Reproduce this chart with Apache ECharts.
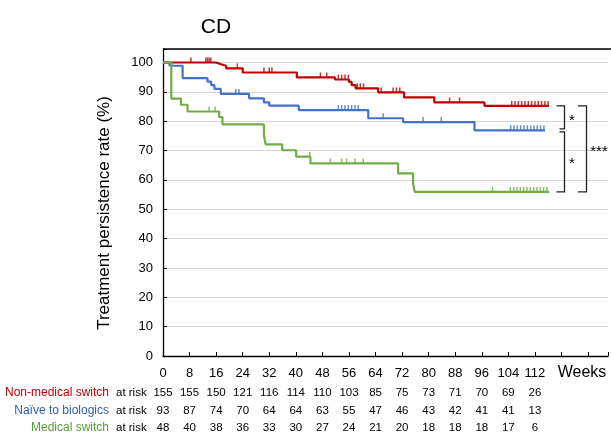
<!DOCTYPE html>
<html>
<head>
<meta charset="utf-8">
<script src="https://cdn.jsdelivr.net/npm/echarts@6/dist/echarts.min.js"></script>
<style>
  html, body { margin: 0; padding: 0; background: #fff; }
  #main { width: 611px; height: 432px; }
</style>
</head>
<body>
<div id="main"></div>
<script>
const groups = ['Non-medical switch', 'Naïve to biologics', 'Medical switch'];
const lineColors = ['#C00000', '#4472C4', '#70AD47'];
const textColors = ['#C00000', '#2F5DAA', '#5A9A3A'];

const tickWeeks = [0, 8, 16, 24, 32, 40, 48, 56, 64, 72, 80, 88, 96, 104, 112];
const riskNonMedical = [155, 155, 150, 121, 116, 114, 110, 103, 85, 75, 73, 71, 70, 69, 26];
const riskNaive = [93, 87, 74, 70, 64, 64, 63, 55, 47, 46, 43, 42, 41, 41, 13];
const riskMedical = [48, 40, 38, 36, 33, 30, 27, 24, 21, 20, 18, 18, 18, 17, 6];

// [week, persistence %] at each step
const survNonMedical = [[0, 100], [16, 99.4], [17.5, 98.9], [19, 98.0], [24, 96.6], [40.3, 94.9],
  [51.8, 94.2], [56, 93.4], [56.8, 92.3], [58, 91.2], [64.8, 89.8], [72.6, 88.1], [81.7, 86.4],
  [96.8, 85.2], [116.2, 85.2]];
const survNaive = [[0, 100], [2, 98.9], [5.9, 94.7], [13.4, 93.5], [14.5, 92.3], [15.5, 91.0],
  [17.4, 89.3], [25.9, 87.8], [30.4, 86.4], [32, 85.3], [40.9, 83.8], [61.8, 81.0], [72.3, 79.7],
  [93.8, 76.9], [115, 76.9]];
const survMedical = [[0, 100], [2.5, 87.7], [5.4, 85.6], [7.4, 83.3], [16.9, 81.4], [17.9, 78.9],
  [30.4, 75.2], [30.9, 72.1], [35.9, 70.1], [40.1, 67.9], [44.4, 65.6], [70.8, 62.2], [75.3, 58.8],
  [75.8, 55.9], [116.3, 55.9]];

// censoring ticks (weeks)
const censNonMedical = [8.4, 12.9, 13.4, 13.9, 14.4, 22.4, 30.4, 32, 32.8, 47.4, 49.3, 52.8, 53.8,
  54.8, 55.8, 58.5, 59.4, 60.4, 65.7, 69.3, 70.3, 71.3, 86.3, 89.3, 105, 106, 107, 108, 109, 110,
  111, 112, 113, 114, 115, 116];
const censNaive = [21.9, 22.9, 52.8, 53.8, 54.8, 55.8, 56.8, 57.8, 58.8, 66.3, 78.3, 83.8, 104.7,
  105.7, 106.7, 107.7, 108.7, 109.7, 110.7, 111.7, 112.7, 113.7, 114.7];
const censMedical = [13.9, 15.7, 44.2, 50.4, 53.8, 55.3, 57.8, 60.3, 99.2, 104.6, 105.6, 106.6,
  107.6, 108.6, 109.6, 110.6, 111.6, 112.6, 113.6, 114.6, 115.6];

const survs = [survNonMedical, survNaive, survMedical];
const censors = [censNonMedical, censNaive, censMedical];
const risks = [riskNonMedical, riskNaive, riskMedical];

const font = 'Liberation Sans, Arial, sans-serif';

function survAt(steps, t) {
  let v = steps[0][1];
  steps.forEach(function (p) { if (p[0] <= t) v = p[1]; });
  return v;
}

const chart = echarts.init(document.getElementById('main'));

const series = [];
groups.forEach(function (g, i) {
  series.push({
    name: g,
    type: 'line',
    step: 'end',
    data: survs[i],
    symbol: 'none',
    lineStyle: { color: lineColors[i], width: 2.2 },
    z: 2 + i,
    silent: true
  });
});
groups.forEach(function (g, i) {
  series.push({
    name: g + ' censored',
    type: 'scatter',
    data: censors[i].map(function (t) { return [t, survAt(survs[i], t)]; }),
    symbol: 'rect',
    symbolSize: [1.5, 5],
    symbolOffset: [0, -2.5],
    itemStyle: { color: lineColors[i] },
    z: 2 + i,
    silent: true
  });
});

chart.setOption({
  animation: false,
  backgroundColor: '#fff',
  textStyle: { fontFamily: font },
  title: {
    text: 'CD',
    left: 211,
    top: 12,
    textAlign: 'center',
    textStyle: { fontSize: 21, fontWeight: 'normal', color: '#000', fontFamily: font }
  },
  grid: {
    left: 163,
    right: 0,
    top: 49,
    bottom: 76
  },
  xAxis: {
    type: 'value',
    min: 0,
    max: 134,
    interval: 8,
    axisLine: { lineStyle: { color: '#000', width: 1.3 } },
    axisTick: { inside: true, length: 4, lineStyle: { color: '#000' } },
    axisLabel: {
      color: '#000',
      fontSize: 13,
      margin: 11,
      fontFamily: font,
      formatter: function (v) { return v <= 112 ? v : ''; }
    },
    splitLine: { show: false }
  },
  yAxis: {
    type: 'value',
    min: 0,
    max: 104.6,
    interval: 10,
    axisLine: { lineStyle: { color: '#000', width: 1.3 } },
    axisTick: { inside: true, length: 4, lineStyle: { color: '#000' } },
    axisLabel: {
      color: '#000',
      fontSize: 13,
      margin: 10,
      fontFamily: font,
      formatter: function (v) { return v <= 100 ? v : ''; }
    },
    splitLine: { show: true, lineStyle: { color: '#d6d6d6', width: 1 } }
  },
  series: series
});

// axis title, top frame line, at-risk table and significance brackets
const px = function (w, p) { return chart.convertToPixel({ gridIndex: 0 }, [w, p]); };
const graphics = [];
const rowY = [393, 411, 428];
const yTop = px(0, 104.6)[1];

graphics.push({
  type: 'line',
  shape: { x1: px(0, 0)[0], y1: yTop, x2: 611, y2: yTop },
  style: { stroke: '#000', lineWidth: 1.3 }
});
graphics.push({
  type: 'text', x: 104, y: 213, rotation: Math.PI / 2,
  style: { text: 'Treatment persistence rate (%)', font: '17px ' + font, fill: '#000', align: 'center', verticalAlign: 'middle' }
});
graphics.push({
  type: 'text', x: 582, y: 373,
  style: { text: 'Weeks', font: '16px ' + font, fill: '#000', align: 'center', verticalAlign: 'middle' }
});

groups.forEach(function (g, i) {
  graphics.push({
    type: 'text', x: 109, y: rowY[i],
    style: { text: g, font: '12px ' + font, fill: textColors[i], align: 'right', verticalAlign: 'middle' }
  });
  graphics.push({
    type: 'text', x: 116, y: rowY[i],
    style: { text: 'at risk', font: '11.5px ' + font, fill: '#000', align: 'left', verticalAlign: 'middle' }
  });
  risks[i].forEach(function (n, k) {
    graphics.push({
      type: 'text', x: px(tickWeeks[k], 0)[0], y: rowY[i],
      style: { text: String(n), font: '11.5px ' + font, fill: '#000', align: 'center', verticalAlign: 'middle' }
    });
  });
});

const yRed = px(0, survNonMedical[survNonMedical.length - 1][1])[1];
const yBlue = px(0, survNaive[survNaive.length - 1][1])[1];
const yGreen = px(0, survMedical[survMedical.length - 1][1])[1];
const bracketStyle = { stroke: '#222', lineWidth: 1.3, fill: null };

graphics.push({
  type: 'polyline',
  shape: { points: [[556.5, yRed], [564.5, yRed], [564.5, yBlue - 1.5], [559.5, yBlue - 1.5]] },
  style: bracketStyle
});
graphics.push({
  type: 'polyline',
  shape: { points: [[559.5, yBlue + 1.5], [564.5, yBlue + 1.5], [564.5, yGreen], [556.5, yGreen]] },
  style: bracketStyle
});
graphics.push({
  type: 'polyline',
  shape: { points: [[578, yRed], [586.5, yRed], [586.5, yGreen], [578, yGreen]] },
  style: bracketStyle
});
graphics.push({
  type: 'text', x: 572, y: (yRed + yBlue) / 2 + 3,
  style: { text: '*', font: '15px ' + font, fill: '#000', align: 'center', verticalAlign: 'middle' }
});
graphics.push({
  type: 'text', x: 572, y: (yBlue + yGreen) / 2 + 3,
  style: { text: '*', font: '15px ' + font, fill: '#000', align: 'center', verticalAlign: 'middle' }
});
graphics.push({
  type: 'text', x: 599, y: (yRed + yGreen) / 2 + 3,
  style: { text: '***', font: '15px ' + font, fill: '#000', align: 'center', verticalAlign: 'middle' }
});

chart.setOption({ graphic: graphics });
</script>
</body>
</html>
